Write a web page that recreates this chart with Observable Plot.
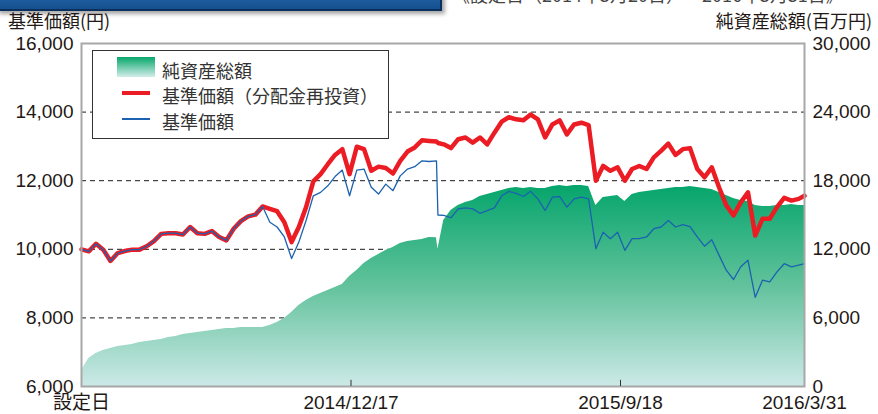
<!DOCTYPE html>
<html><head><meta charset="utf-8">
<script src="https://cdn.jsdelivr.net/npm/d3@7"></script>
<script src="https://cdn.jsdelivr.net/npm/@observablehq/plot@0.6"></script>
<style>
html,body{margin:0;padding:0;background:#fff;}
#wrap{position:relative;width:878px;height:414px;overflow:hidden;font-family:"Liberation Sans",Arial,"Noto Sans CJK JP",sans-serif;color:#231815;}
#chart{position:absolute;left:0;top:0;}
.banner{position:absolute;left:-4px;top:-20px;width:442px;height:27px;background:linear-gradient(#2f73ba,#15508f);border:2px solid #0b2f5c;box-shadow:3px 3px 4px rgba(0,0,0,.35);}
.period{position:absolute;left:452px;top:-17px;font-size:18px;line-height:22px;white-space:nowrap;font-family:"Noto Sans CJK JP",sans-serif;color:#444;}
.ylab{position:absolute;top:8px;font-size:18px;line-height:24px;white-space:nowrap;font-family:"Noto Sans CJK JP",sans-serif;}
.legend{position:absolute;left:92px;top:50px;width:295px;height:87px;border:1px solid #333;background:#fff;}
.legend .t{position:absolute;left:69px;font-size:18px;line-height:24px;white-space:nowrap;font-family:"Noto Sans CJK JP",sans-serif;color:#333;}
.legend .sw{position:absolute;left:24px;top:6px;width:38px;height:20px;background:linear-gradient(#07a66b,#d2ede9);}
.legend .ln{position:absolute;left:29px;width:28px;}
</style>
</head><body>
<div id="wrap">
  <div id="chart"></div>
  <div class="banner"></div>
  <div class="period">《設定日（2014年3月20日）～2016年3月31日》</div>
  <div class="ylab" style="left:8px">基準価額(円)</div>
  <div class="ylab" style="right:6px">純資産総額(百万円)</div>
  <div class="legend">
    <div class="sw"></div>
    <div class="t" style="top:7px">純資産総額</div>
    <div class="ln" style="top:40px;height:4px;background:#ec1c24"></div>
    <div class="t" style="top:32px">基準価額（分配金再投資）</div>
    <div class="ln" style="top:67px;height:1.5px;background:#1c62b0"></div>
    <div class="t" style="top:58px">基準価額</div>
  </div>
</div>
<script>
// business-day index since launch
const days = [0,5,10,15,20,25,30,35,40,45,50,55,60,65,70,75,80,85,90,95,100,105,110,115,120,125,130,135,140,145,150,155,160,165,170,175,180,185,190,195,200,205,210,215,220,225,230,235,240,245,246,250,255,260,265,270,275,280,285,290,295,300,305,310,315,320,325,330,335,340,345,350,355,360,365,370,375,380,385,390,395,400,405,410,415,420,425,430,435,440,445,450,455,460,465,470,475,480,485,490,495,499];
// 基準価額（分配金再投資） (円)
const navReinvested = [10000,9940,10160,9990,9660,9890,9950,9990,9990,10090,10240,10450,10470,10470,10430,10650,10470,10450,10530,10360,10260,10600,10820,10960,11010,11250,11180,11110,10790,10210,10650,11230,11980,12190,12480,12750,12920,12190,12990,12920,12290,12410,12370,12210,12580,12850,12970,13180,13160,13140,13100,13060,12950,13210,13260,13110,13260,13060,13400,13720,13850,13790,13760,13930,13790,13260,13640,13760,13350,13640,13690,13620,12000,12430,12290,12390,12000,12340,12430,12340,12680,12870,13080,12750,12920,12950,12340,12100,12390,11810,11280,10990,11370,11660,10400,10890,10890,11230,11500,11420,11470,11560];
// 基準価額 (円)
const nav = [10000,9940,10160,9990,9660,9890,9950,9990,9990,10090,10240,10450,10470,10470,10430,10650,10470,10450,10530,10360,10260,10600,10820,10960,11010,11250,10790,10650,10360,9730,10210,10840,11560,11660,11850,12120,12310,11560,12310,12340,11810,11610,11900,11710,12140,12340,12410,12580,12560,12580,11000,10990,10920,11180,11210,11180,11050,11130,11210,11560,11690,11630,11540,11690,11470,11130,11520,11540,11230,11470,11520,11470,10020,10500,10310,10500,9970,10310,10310,10360,10600,10650,10840,10650,10720,10660,10360,10090,10280,9830,9390,9120,9490,9680,8600,9100,9050,9340,9580,9490,9540,9580];
// 純資産総額 (百万円)
const netAssets = [1400,2450,2890,3150,3320,3500,3590,3670,3850,3940,4020,4110,4290,4370,4550,4640,4720,4810,4900,4990,5070,5070,5160,5160,5160,5160,5340,5600,5950,6470,7080,7520,7870,8130,8400,8660,8920,9620,10150,10760,11190,11540,11890,12160,12510,12680,12770,12860,13030,13000,12000,14520,15390,15830,16090,16270,16620,16790,16970,17140,17320,17400,17320,17400,17320,17320,17490,17580,17490,17580,17580,17490,15830,16530,16620,16700,16180,16790,16970,17050,17140,17230,17320,17400,17400,17490,17400,17320,17230,16970,16700,16440,16270,16180,15830,15740,15740,15830,15830,15920,15830,15830];

const leftTicks = [6000,8000,10000,12000,14000,16000];
const gridValues = [8000,10000,12000,14000];
const rightScaleFactor = 3; // 純資産総額 = (left - 6000) * 3
const tickDays = [0,186,372,499];
const tickLabels = ["設定日","2014/12/17","2015/9/18","2016/3/31"];

const rows = days.map((d,i)=>({d, r: navReinvested[i], b: nav[i], a: netAssets[i]}));
const fmt = d3.format(",");

const chart = Plot.plot({
  width: 878, height: 414,
  marginLeft: 81, marginRight: 74, marginTop: 43, marginBottom: 28,
  x: {domain: [0, 499], axis: null},
  y: {domain: [6000, 16000], axis: null},
  style: {fontFamily: '"Liberation Sans", Arial, "Noto Sans CJK JP", sans-serif', fontSize: "19px", color: "#231815", background: "transparent"},
  marks: [
    Plot.ruleY(gridValues, {stroke: "#1a1a1a", strokeDasharray: "5,4", strokeWidth: 1}),
    Plot.areaY(rows, {x: "d", y1: () => 6000, y2: r => 6000 + r.a / rightScaleFactor, fill: "url(#naGrad)"}),
    Plot.line(rows, {x: "d", y: "r", stroke: "#ec1c24", strokeWidth: 4.5, strokeLinejoin: "round"}),
    Plot.line(rows, {x: "d", y: "b", stroke: "#1c62b0", strokeWidth: 1.3}),
    Plot.frame({stroke: "#a7a7a7", strokeWidth: 2}),
    Plot.ruleX(tickDays.slice(1, 3), {y1: () => 6000, y2: () => 6180, stroke: "#333", strokeWidth: 1}),
    Plot.text(leftTicks, {x: () => 0, y: d => d, text: d => fmt(d), textAnchor: "end", dx: -8, fill: "#231815"}),
    Plot.text(leftTicks, {x: () => 499, y: d => d, text: d => fmt((d - 6000) * rightScaleFactor), textAnchor: "start", dx: 8, fill: "#231815"}),
    Plot.text(tickDays, {x: d => d, y: () => 6000, text: (d, i) => tickLabels[i], dy: 16, fill: "#231815"})
  ]
});
d3.select(chart).insert("defs", ":first-child").html(
  '<linearGradient id="naGrad" x1="0" y1="0" x2="0" y2="1">' +
  '<stop offset="0" stop-color="#05a56b"/>' +
  '<stop offset="0.5" stop-color="#62c29c"/>' +
  '<stop offset="1" stop-color="#cce9e7"/>' +
  '</linearGradient>');
document.getElementById("chart").appendChild(chart);
</script>
</body></html>
